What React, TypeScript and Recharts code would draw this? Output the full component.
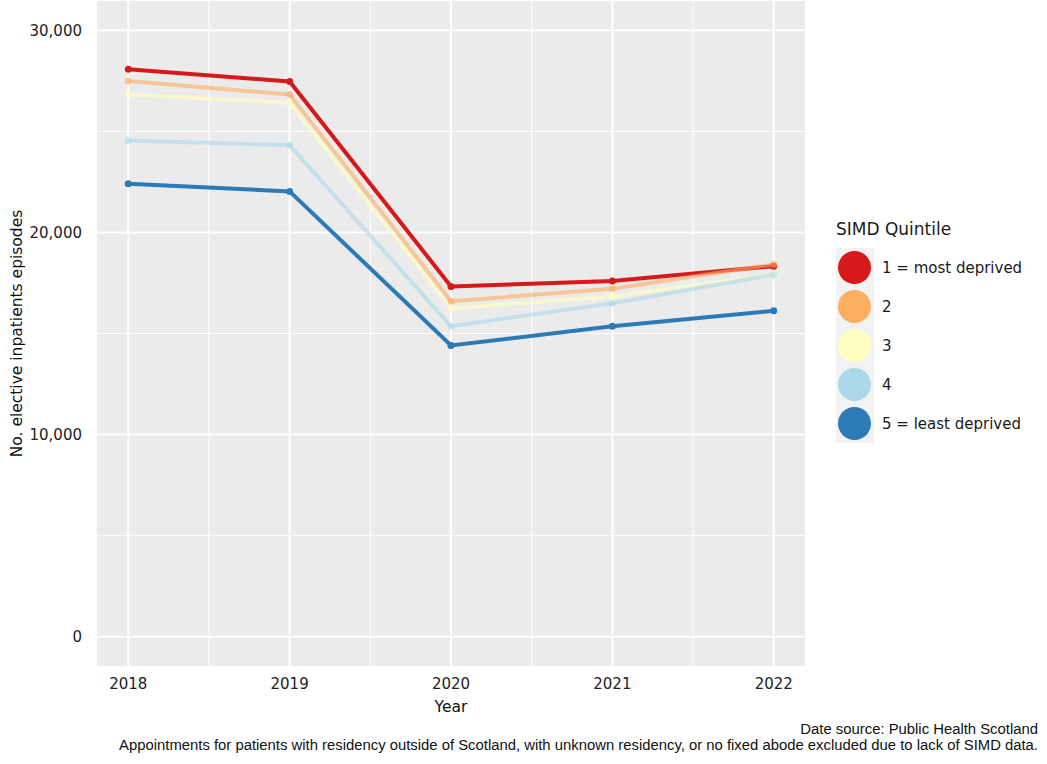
import React from "react";
import { CartesianGrid, Line, LineChart, ReferenceLine, XAxis, YAxis } from "recharts";

const YEARS = [2018, 2019, 2020, 2021, 2022];
const Q1 = [28070, 27470, 17330, 17600, 18330];
const Q2 = [27490, 26820, 16600, 17210, 18420];
const Q3 = [26820, 26420, 16250, 16830, 17910];
const Q4 = [24550, 24310, 15360, 16500, 17910];
const Q5 = [22410, 22030, 14410, 15360, 16120];

const Y_TICKS = [0, 10000, 20000, 30000];
const Y_MINOR = [5000, 15000, 25000];
const X_MINOR = [2018.5, 2019.5, 2020.5, 2021.5];

const SERIES = [
  { key: "q1", name: "1 = most deprived", color: "#D7191C", opacity: 1, values: Q1 },
  { key: "q2", name: "2", color: "#FDAE61", opacity: 0.6, values: Q2 },
  { key: "q3", name: "3", color: "#FFFFBF", opacity: 0.6, values: Q3 },
  { key: "q4", name: "4", color: "#ABD9E9", opacity: 0.6, values: Q4 },
  { key: "q5", name: "5 = least deprived", color: "#2C7BB6", opacity: 1, values: Q5 },
];

const data = YEARS.map((year, i) => {
  const row: Record<string, number> = { year };
  SERIES.forEach((s) => (row[s.key] = s.values[i]));
  return row;
});

const FONT = "'DejaVu Sans', sans-serif";

function QuintileLegend() {
  return (
    <div
      style={{
        position: "absolute",
        left: 836,
        top: 219,
        fontFamily: FONT,
        color: "#1a1a1a",
      }}
    >
      <div style={{ fontSize: 17, marginBottom: 9, whiteSpace: "nowrap" }}>SIMD Quintile</div>
      <div style={{ background: "#F2F2F2", width: 38 }}>
        {SERIES.map((s) => (
          <div key={s.key} style={{ height: 39, display: "flex", alignItems: "center" }}>
            <div
              style={{
                width: 33,
                height: 33,
                borderRadius: "50%",
                background: s.color,
                marginLeft: 2,
                flexShrink: 0,
              }}
            />
            <span style={{ marginLeft: 11, fontSize: 15, whiteSpace: "nowrap" }}>{s.name}</span>
          </div>
        ))}
      </div>
    </div>
  );
}

export default function App() {
  return (
    <div
      style={{
        position: "absolute",
        left: 0,
        top: 0,
        width: 1047,
        height: 764,
        background: "#fff",
        fontFamily: FONT,
      }}
    >
      <LineChart
        width={1047}
        height={764}
        data={data}
        margin={{ top: 0, right: 241, bottom: 0, left: 0 }}
      >
        <CartesianGrid fill="#EBEBEB" stroke="#FFFFFF" strokeWidth={2} strokeDasharray="" />
        {Y_MINOR.map((v) => (
          <ReferenceLine key={"ym" + v} y={v} stroke="#FFFFFF" strokeWidth={1} />
        ))}
        {X_MINOR.map((v) => (
          <ReferenceLine key={"xm" + v} x={v} stroke="#FFFFFF" strokeWidth={1} />
        ))}
        <XAxis
          dataKey="year"
          type="number"
          domain={[2017.8, 2022.2]}
          ticks={YEARS}
          axisLine={false}
          tickLine={false}
          height={97}
          tick={{ fontSize: 15, fill: "#222", fontFamily: FONT }}
          tickMargin={5}
          label={{
            value: "Year",
            position: "insideBottom",
            offset: 52,
            style: { fontSize: 15.5, fill: "#111", fontFamily: FONT },
          }}
        />
        <YAxis
          type="number"
          domain={[-1500, 31500]}
          ticks={Y_TICKS}
          axisLine={false}
          tickLine={false}
          width={96}
          tickMargin={8}
          tickFormatter={(v: number) => v.toLocaleString("en-GB")}
          tick={{ fontSize: 15, fill: "#222", fontFamily: FONT }}
          label={{
            value: "No. elective inpatients episodes",
            angle: -90,
            position: "insideLeft",
            offset: 16,
            style: { textAnchor: "middle", fontSize: 15.5, fill: "#111", fontFamily: FONT },
          }}
        />
        {SERIES.map((s) => (
          <Line
            key={s.key}
            dataKey={s.key}
            name={s.name}
            type="linear"
            stroke={s.color}
            strokeOpacity={s.opacity}
            strokeWidth={4}
            dot={{ r: 3.5, fill: s.color, fillOpacity: s.opacity, stroke: "none" }}
            activeDot={false}
            isAnimationActive={false}
          />
        ))}
      </LineChart>
      <QuintileLegend />
      <div
        style={{
          position: "absolute",
          right: 9,
          top: 721,
          textAlign: "right",
          fontFamily: "'Liberation Sans', Arial, sans-serif",
          fontSize: 14.85,
          lineHeight: "16px",
          color: "#111",
          whiteSpace: "nowrap",
        }}
      >
        <div>Date source: Public Health Scotland</div>
        <div>
          Appointments for patients with residency outside of Scotland, with unknown residency, or no
          fixed abode excluded due to lack of SIMD data.
        </div>
      </div>
    </div>
  );
}
